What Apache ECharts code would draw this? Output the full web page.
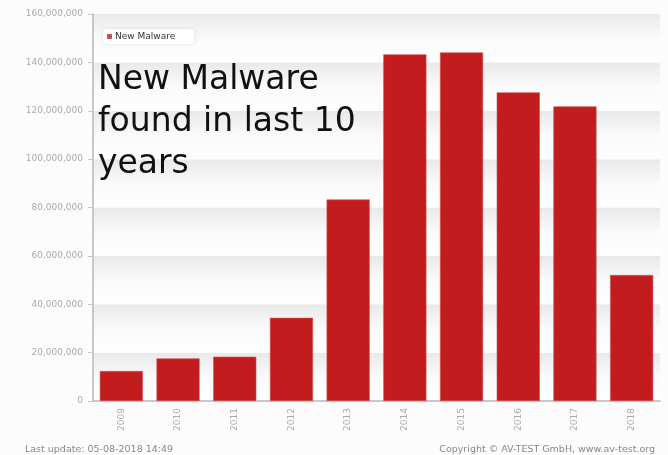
<!DOCTYPE html>
<html><head><meta charset="utf-8">
<script src="https://cdn.jsdelivr.net/npm/echarts@6/dist/echarts.min.js"></script>
<style>html,body{margin:0;padding:0;background:#fff}#c{width:668px;height:455px}</style>
</head><body><div id="c"></div>
<script>
const years = ['2009','2010','2011','2012','2013','2014','2015','2016','2017','2018'];
const newMalware = [12400000, 17600000, 18300000, 34400000, 83300000, 143300000, 144100000, 127600000, 121800000, 52100000];
const seriesName = 'New Malware';
const titleText = 'New Malware\nfound in last 10\nyears';
const footLeft = 'Last update: 05-08-2018 14:49';
const footRight = 'Copyright \u00a9 AV-TEST GmbH, www.av-test.org';

const band = new echarts.graphic.LinearGradient(0,0,0,1,[{offset:0,color:'#e9e9e9'},{offset:0.5,color:'#fafafa'},{offset:1,color:'#ffffff'}]);
const chart = echarts.init(document.getElementById('c'), null, {renderer:'canvas'});
chart.setOption({
  backgroundColor:'#fcfcfc',
  animation:false,
  title:{text:titleText,left:98,top:59,padding:0,textStyle:{fontFamily:'DejaVu Sans',fontWeight:'normal',fontSize:33,lineHeight:42,color:'#111'}},
  legend:{data:[seriesName],left:103,top:29,icon:'rect',itemWidth:3,itemHeight:3,itemGap:4,
    backgroundColor:'#fff',borderRadius:4,padding:[3,19,3,4],shadowColor:'rgba(0,0,0,0.12)',shadowBlur:3,
    textStyle:{fontFamily:'DejaVu Sans',fontSize:9,color:'#333',padding:[0,0,0,-1]}},
  grid:{left:93,right:8,top:14,bottom:54},
  xAxis:{type:'category',data:years,
    axisLine:{lineStyle:{color:'#c8c8c8',width:2}},
    axisTick:{alignWithLabel:true,length:5,lineStyle:{color:'#c8c8c8'}},
    axisLabel:{rotate:90,margin:7,color:'#aaa',fontFamily:'DejaVu Sans',fontSize:9}},
  yAxis:{type:'value',min:0,max:160000000,interval:20000000,
    axisLine:{show:true,lineStyle:{color:'#c8c8c8',width:2}},
    axisTick:{show:true,length:5,lineStyle:{color:'#c8c8c8'}},
    splitLine:{show:false},
    splitArea:{show:true,areaStyle:{color:[band]}},
    axisLabel:{color:'#aaa',fontFamily:'DejaVu Sans',fontSize:9,margin:10,
      formatter:v=>v.toLocaleString('en-US')}},
  series:[{name:seriesName,type:'bar',data:newMalware,barWidth:'76%',
    itemStyle:{color:'#c21c1e',borderColor:'#cf5050',borderWidth:0.6}}],
  graphic:[
    {type:'text',left:25,top:445,style:{text:footLeft,fill:'#888',font:'9.5px "DejaVu Sans"'}},
    {type:'text',right:13,top:445,style:{text:footRight,fill:'#888',font:'9.5px "DejaVu Sans"'}}
  ]
});
</script></body></html>
